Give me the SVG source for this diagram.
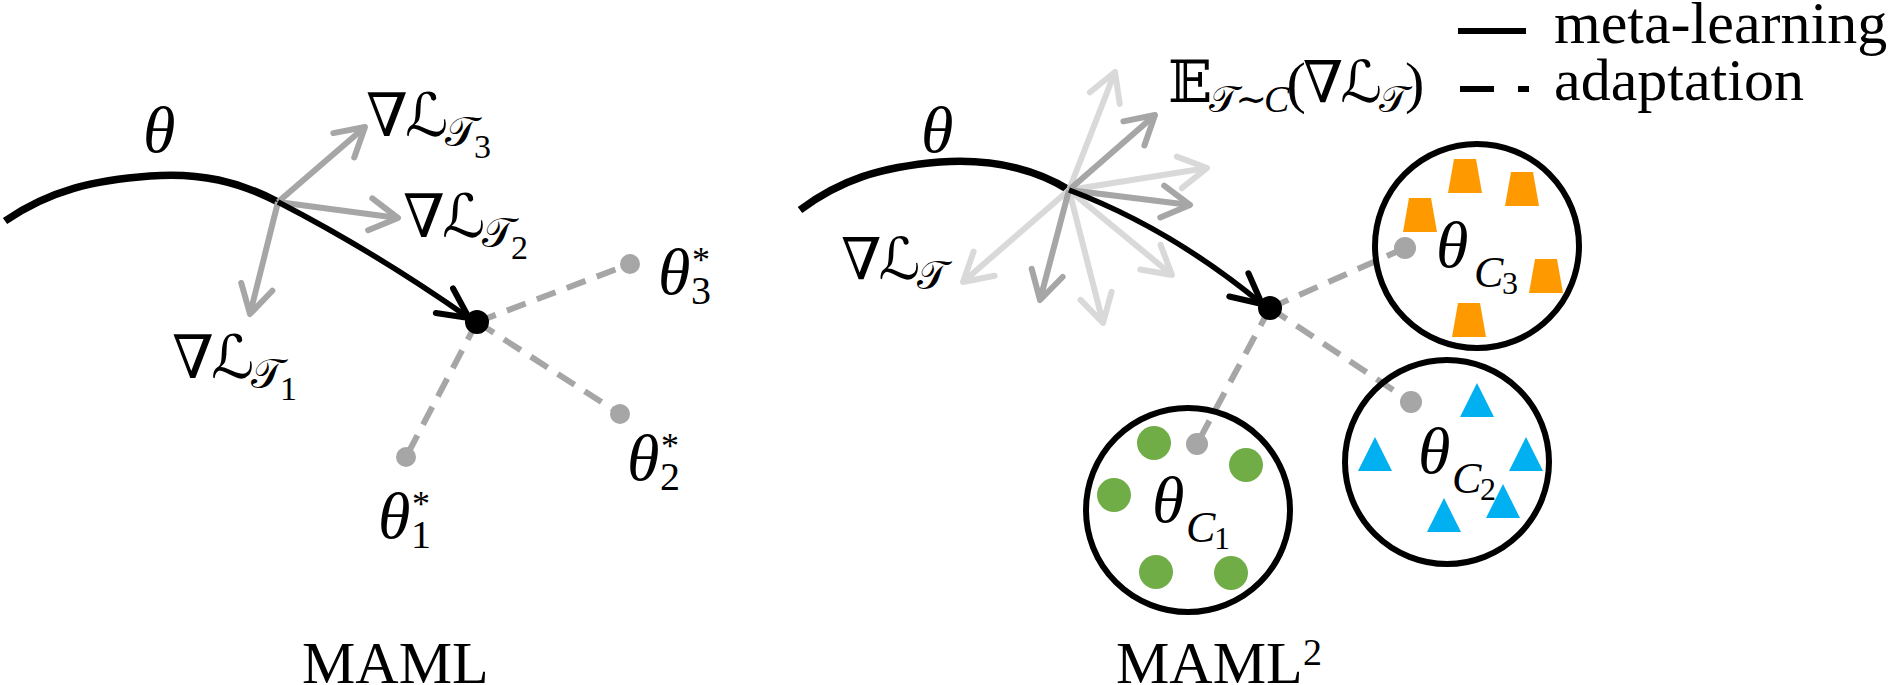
<svg xmlns="http://www.w3.org/2000/svg" width="1890" height="685" viewBox="0 0 1890 685">
<style>
.t{font-family:'Liberation Serif','DejaVu Serif','DejaVu Sans',serif;fill:#000}
.it{font-style:italic}
.g{letter-spacing:-3px}
.traj{fill:none;stroke:#000;stroke-width:7.5}
.step{fill:none;stroke:#000;stroke-width:5.5;marker-end:url(#hk)}
.gm{fill:none;stroke:#a6a6a6;stroke-width:6;marker-end:url(#hm)}
.gl{fill:none;stroke:#d9d9d9;stroke-width:6;marker-end:url(#hl)}
.ad{fill:none;stroke:#a6a6a6;stroke-width:6;stroke-dasharray:20 12}
.gd{fill:#a6a6a6}
.clu{fill:none;stroke:#000;stroke-width:6}
.or{fill:#ff9900}.bl{fill:#00b0f0}.gr{fill:#70ad47}
</style>
<defs>
<marker id="hk" markerUnits="userSpaceOnUse" viewBox="-40 -25 50 50" markerWidth="50" markerHeight="50" refX="0" refY="0" orient="auto"><path d="M-30,-15 L0,0 L-30,15" fill="none" stroke="#000" stroke-width="6" stroke-linecap="round" stroke-linejoin="round"/></marker>
<marker id="hm" markerUnits="userSpaceOnUse" viewBox="-40 -25 50 50" markerWidth="50" markerHeight="50" refX="0" refY="0" orient="auto"><path d="M-28,-16 L0,0 L-28,16" fill="none" stroke="#a6a6a6" stroke-width="6" stroke-linecap="round" stroke-linejoin="round"/></marker>
<marker id="hl" markerUnits="userSpaceOnUse" viewBox="-40 -25 50 50" markerWidth="50" markerHeight="50" refX="0" refY="0" orient="auto"><path d="M-28,-16 L0,0 L-28,16" fill="none" stroke="#d9d9d9" stroke-width="6" stroke-linecap="round" stroke-linejoin="round"/></marker>
<polygon id="trap" points="-17,17 17,17 11,-17 -11,-17"/>
<polygon id="tri" points="-17,17 17,17 0,-17"/>
</defs>

<g id="connectors">
  <!-- left: MAML -->
  <path class="traj" d="M5,221 C50,190 95,180 150,176 C200,172 240,182 278,202"/>
  <path class="gm" d="M278,202 L365,127"/>
  <path class="gm" d="M278,202 L398,218"/>
  <path class="gm" d="M278,202 L250,314"/>
  <path class="step" d="M278,202 Q375,252 469,318"/>
  <path class="ad" d="M477,322 L630,264"/>
  <path class="ad" d="M477,322 L620,414"/>
  <path class="ad" d="M477,322 L406,457"/>
  <!-- right: MAML2 -->
  <path class="traj" d="M800,210 C840,180 880,167 940,162 C1000,158 1040,172 1069,190"/>
  <path class="gl" d="M1069,190 L1115,72"/>
  <path class="gl" d="M1069,190 L1207,168"/>
  <path class="gl" d="M1069,190 L1172,275"/>
  <path class="gl" d="M1069,190 L1103,323"/>
  <path class="gl" d="M1069,190 L963,282"/>
  <path class="gm" d="M1069,190 L1155,115"/>
  <path class="gm" d="M1069,190 L1190,205"/>
  <path class="gm" d="M1069,190 L1040,300"/>
  <path class="step" d="M1069,190 Q1170,228 1262,304"/>
  <path class="ad" d="M1270,308 L1405,248"/>
  <path class="ad" d="M1270,308 L1411,402"/>
  <path class="ad" d="M1270,308 L1197,444"/>
  <!-- legend -->
  <path d="M1458,31 L1526,31" stroke="#000" stroke-width="6" fill="none"/>
  <path d="M1460,89 L1494,89 M1518,89 L1529,89" stroke="#000" stroke-width="6" fill="none"/>
</g>

<g id="maml">
  <text class="t it" x="143" y="152" font-size="66">θ</text>
  <g id="grad-t3"><text class="t g" x="366" y="136" font-size="60">∇ℒ<tspan dy="10" font-size="42">𝒯</tspan><tspan dy="12" font-size="34">3</tspan></text></g>
  <g id="grad-t2"><text class="t g" x="403" y="237" font-size="60">∇ℒ<tspan dy="10" font-size="42">𝒯</tspan><tspan dy="12" font-size="34">2</tspan></text></g>
  <g id="grad-t1"><text class="t g" x="172" y="378" font-size="60">∇ℒ<tspan dy="10" font-size="42">𝒯</tspan><tspan dy="12" font-size="34">1</tspan></text></g>
  <g id="theta-point"><circle cx="477" cy="322" r="12" fill="#000"/></g>
  <g id="theta3"><circle class="gd" cx="630" cy="264" r="10"/><text class="t" font-size="66"><tspan class="it" x="658" y="294">θ</tspan><tspan x="692" y="272" font-size="36">*</tspan><tspan x="691" y="304" font-size="40">3</tspan></text></g>
  <g id="theta2"><circle class="gd" cx="620" cy="414" r="10"/><text class="t" font-size="66"><tspan class="it" x="627" y="480">θ</tspan><tspan x="661" y="458" font-size="36">*</tspan><tspan x="660" y="490" font-size="40">2</tspan></text></g>
  <g id="theta1"><circle class="gd" cx="406" cy="457" r="10"/><text class="t" font-size="66"><tspan class="it" x="378" y="538">θ</tspan><tspan x="412" y="516" font-size="36">*</tspan><tspan x="411" y="548" font-size="40">1</tspan></text></g>
  <text class="t" x="302" y="683" font-size="60">MAML</text>
</g>

<g id="maml2">
  <text class="t it" x="921" y="152" font-size="66">θ</text>
  <g id="grad-t"><text class="t g" x="841" y="279" font-size="58">∇ℒ<tspan dy="10" font-size="40">𝒯</tspan></text></g>
  <g id="expect"><text class="t g" x="1168" y="102" font-size="58">𝔼<tspan dy="10" font-size="38">𝒯∼<tspan class="it">C</tspan></tspan><tspan dy="-10">(∇ℒ</tspan><tspan dy="10" font-size="38">𝒯</tspan><tspan dy="-10">)</tspan></text></g>
  <g id="mean-point"><circle cx="1270" cy="308" r="12" fill="#000"/></g>
  <g id="cluster3">
    <circle class="clu" cx="1477" cy="246" r="102"/>
    <use href="#trap" class="or" x="1465" y="176"/>
    <use href="#trap" class="or" x="1522" y="189"/>
    <use href="#trap" class="or" x="1420" y="215"/>
    <use href="#trap" class="or" x="1546" y="276"/>
    <use href="#trap" class="or" x="1469" y="320"/>
    <circle class="gd" cx="1405" cy="248" r="11"/>
    <text class="t" font-size="66"><tspan class="it" x="1436" y="267">θ</tspan><tspan class="it" x="1474" y="287" font-size="44">C</tspan><tspan x="1502" y="294" font-size="32">3</tspan></text>
  </g>
  <g id="cluster2">
    <circle class="clu" cx="1447" cy="462" r="102"/>
    <use href="#tri" class="bl" x="1477" y="400"/>
    <use href="#tri" class="bl" x="1375" y="454"/>
    <use href="#tri" class="bl" x="1526" y="454"/>
    <use href="#tri" class="bl" x="1503" y="501"/>
    <use href="#tri" class="bl" x="1444" y="515"/>
    <circle class="gd" cx="1411" cy="402" r="11"/>
    <text class="t" font-size="66"><tspan class="it" x="1418" y="473">θ</tspan><tspan class="it" x="1452" y="493" font-size="44">C</tspan><tspan x="1480" y="500" font-size="32">2</tspan></text>
  </g>
  <g id="cluster1">
    <circle class="clu" cx="1188" cy="510" r="102"/>
    <circle class="gr" cx="1154" cy="443" r="17"/>
    <circle class="gr" cx="1246" cy="465" r="17"/>
    <circle class="gr" cx="1114" cy="495" r="17"/>
    <circle class="gr" cx="1156" cy="572" r="17"/>
    <circle class="gr" cx="1231" cy="573" r="17"/>
    <circle class="gd" cx="1197" cy="444" r="11"/>
    <text class="t" font-size="66"><tspan class="it" x="1152" y="522">θ</tspan><tspan class="it" x="1186" y="542" font-size="44">C</tspan><tspan x="1214" y="549" font-size="32">1</tspan></text>
  </g>
  <text class="t" y="683" font-size="60"><tspan x="1116">MAML</tspan><tspan x="1303" y="665" font-size="38">2</tspan></text>
</g>

<g id="legend">
  <text class="t" x="1554" y="43" font-size="60">meta-learning</text>
  <text class="t" x="1554" y="100" font-size="60">adaptation</text>
</g>
</svg>
